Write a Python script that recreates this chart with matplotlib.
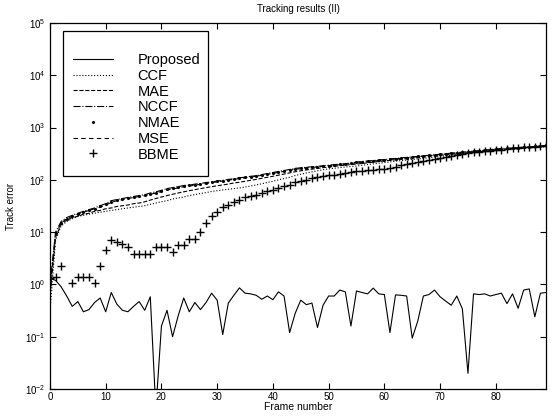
import matplotlib
matplotlib.use("Agg")
import matplotlib.pyplot as plt
from matplotlib.patches import Rectangle
import numpy as np

plt.rcParams['font.family'] = ['Liberation Sans', 'DejaVu Sans']
plt.rcParams['mathtext.fontset'] = 'custom'
plt.rcParams['mathtext.rm'] = 'Liberation Sans'

frames = list(range(90))

proposed = [1.3, 1.2, 0.9, 0.6, 0.38, 0.47, 0.30, 0.33, 0.45, 0.55,
            0.30, 0.70, 0.42, 0.32, 0.30, 0.38, 0.47, 0.32, 0.58, 0.004,
            0.16, 0.32, 0.10, 0.25, 0.55, 0.30, 0.45, 0.33, 0.45, 0.68,
            0.50, 0.11, 0.44, 0.62, 0.86, 0.68, 0.66, 0.62, 0.52, 0.60,
            0.51, 0.72, 0.60, 0.12, 0.28, 0.50, 0.41, 0.44, 0.15, 0.40,
            0.60, 0.60, 0.78, 0.72, 0.16, 0.75, 0.70, 0.66, 0.85, 0.66,
            0.64, 0.12, 0.63, 0.62, 0.60, 0.094, 0.20, 0.60, 0.64, 0.78,
            0.58, 0.48, 0.40, 0.60, 0.34, 0.02, 0.66, 0.64, 0.66, 0.60,
            0.64, 0.68, 0.43, 0.66, 0.35, 0.78, 0.82, 0.24, 0.68, 0.70]

ccf = [0.3, 7, 13, 16, 18, 20, 21, 22, 23, 24,
       25, 26, 27, 28, 29, 30, 31, 32, 34, 36,
       38, 40, 43, 45, 47, 50, 52, 55, 57, 60,
       62, 64, 66, 68, 70, 73, 76, 80, 84, 89,
       94, 100, 106, 112, 121, 128, 135, 142, 149, 156,
       162, 167, 171, 176, 180, 184, 190, 196, 202, 208,
       214, 220, 227, 233, 239, 245, 251, 258, 265, 272,
       280, 288, 296, 304, 312, 320, 329, 337, 345, 353,
       361, 369, 377, 385, 393, 401, 409, 416, 423, 430]

mae = [0.6, 8, 14, 17, 19, 20, 22, 23, 25, 26,
       28, 29, 31, 32, 33, 35, 36, 38, 41, 44,
       47, 50, 53, 56, 59, 62, 65, 68, 71, 74,
       77, 80, 83, 87, 90, 94, 98, 102, 107, 112,
       117, 123, 129, 136, 143, 149, 155, 160, 166, 171,
       176, 181, 186, 191, 196, 200, 206, 212, 218, 224,
       230, 236, 242, 248, 255, 261, 266, 273, 280, 287,
       294, 301, 308, 316, 323, 331, 339, 347, 355, 363,
       371, 380, 388, 396, 404, 412, 419, 426, 433, 440]

nccf = [1, 10, 16, 19, 21, 23, 25, 27, 29, 32,
        35, 40, 42, 44, 46, 48, 50, 52, 56, 59,
        63, 68, 71, 74, 78, 79, 83, 85, 89, 91,
        95, 98, 102, 105, 110, 112, 117, 120, 126, 132,
        138, 145, 151, 158, 166, 170, 174, 178, 182, 186,
        191, 195, 200, 204, 209, 219, 224, 229, 234, 240,
        245, 251, 257, 263, 269, 275, 282, 288, 295, 302,
        309, 316, 324, 331, 339, 347, 355, 363, 372, 380,
        389, 398, 400, 407, 417, 420, 427, 437, 447, 457]

nmae = [1, 9.5, 15, 18, 20, 22, 24, 26, 28, 31,
        34, 38, 41, 43, 45, 47, 49, 51, 54, 57,
        61, 66, 69, 72, 76, 78, 81, 84, 87, 90,
        93, 97, 100, 104, 108, 111, 115, 119, 124, 130,
        136, 142, 148, 155, 162, 167, 171, 175, 180, 184,
        188, 193, 197, 202, 207, 215, 221, 226, 232, 237,
        243, 249, 255, 261, 267, 273, 280, 286, 293, 300,
        307, 314, 321, 329, 337, 345, 353, 361, 369, 378,
        386, 395, 398, 405, 414, 418, 425, 435, 444, 454]

mse = [0.8, 9, 15, 18, 20, 22, 24, 26, 28, 30,
       33, 37, 40, 42, 44, 46, 48, 50, 53, 56,
       60, 64, 67, 70, 74, 76, 79, 82, 85, 88,
       92, 95, 99, 102, 106, 109, 113, 117, 122, 127,
       133, 139, 145, 152, 159, 164, 168, 172, 177, 181,
       186, 190, 195, 199, 204, 212, 218, 223, 229, 234,
       240, 246, 252, 258, 264, 270, 277, 283, 290, 297,
       304, 311, 319, 326, 334, 342, 350, 358, 366, 375,
       383, 392, 396, 403, 410, 416, 423, 432, 441, 450]

bbme = [1.3, 1.4, 2.25, np.nan, 1.05, 1.4, 1.4, 1.4, 1.05, 2.3,
        4.6, 7.1, 6.4, 5.9, 5.3, 3.8, 3.8, 3.8, 3.8, 5.3,
        5.3, 5.3, 4.2, 5.6, 5.6, 7.3, 7.3, 10.2, 15, 20,
        24.6, 30, 33, 37, 42, 46, 49, 52, 56, 60,
        65, 71, 76, 81, 89, 95, 100, 107, 112, 117,
        123, 126, 132, 135, 141, 145, 148, 151, 155, 158,
        162, 170, 178, 191, 200, 209, 219, 229, 240, 251,
        263, 275, 288, 302, 316, 331, 339, 347, 355, 363,
        372, 380, 389, 398, 407, 417, 420, 427, 437, 447]

yticks = [1e-2, 1e-1, 1e0, 1e1, 1e2, 1e3, 1e4, 1e5]

fig = plt.figure(figsize=(5.59, 4.18), dpi=100)
ax = fig.add_axes([0.0894, 0.0694, 0.8873, 0.8756])

lw = 0.8
ax.plot(frames, proposed, '-', color='k', lw=lw, label='Proposed')
ax.plot(frames, ccf, ':', color='k', lw=lw, label='CCF')
ax.plot(frames, mae, '--', color='k', lw=lw, label='MAE')
ax.plot(frames, nccf, '-.', color='k', lw=lw, label='NCCF')
ax.plot(frames, nmae, '.', color='k', ms=2.5, label='NMAE')
ax.plot(frames, mse, '--', color='k', lw=lw, dashes=(4, 3), label='MSE')
ax.plot(frames, bbme, '+', color='k', ms=6, mew=1.0, label='BBME')

ax.set_yscale('log')
ax.set_yticks(yticks)
ax.set_ylim(1e-2, 1e5)
ax.set_xlim(0, 89)
ax.set_xticks(range(0, 90, 10))
ax.yaxis.set_minor_locator(matplotlib.ticker.NullLocator())
ax.tick_params(direction='in', top=True, right=True, labelsize=7, length=4, width=0.8)
ax.tick_params(axis='x', pad=2.5)
for s in ax.spines.values():
    s.set_linewidth(0.9)

ax.set_title('Tracking results (II)', fontsize=7, pad=8)
ax.set_xlabel('Frame number', fontsize=7.5, labelpad=0)
ax.set_ylabel('Track error', fontsize=7, labelpad=6)

# legend entries without frame, box drawn separately (matlab style padding)
leg = ax.legend(loc='upper left', bbox_to_anchor=(0.0464, 0.918), fontsize=10.5,
                frameon=False, borderpad=0, labelspacing=0.12,
                handlelength=2.74, handletextpad=1.7, borderaxespad=0.0)
ax.add_patch(Rectangle((0.026, 0.582), 0.2925, 0.396, transform=ax.transAxes,
                       facecolor='white', edgecolor='k', lw=0.9, zorder=4))
leg.set_zorder(5)

fig.savefig('out.png', dpi=100)
